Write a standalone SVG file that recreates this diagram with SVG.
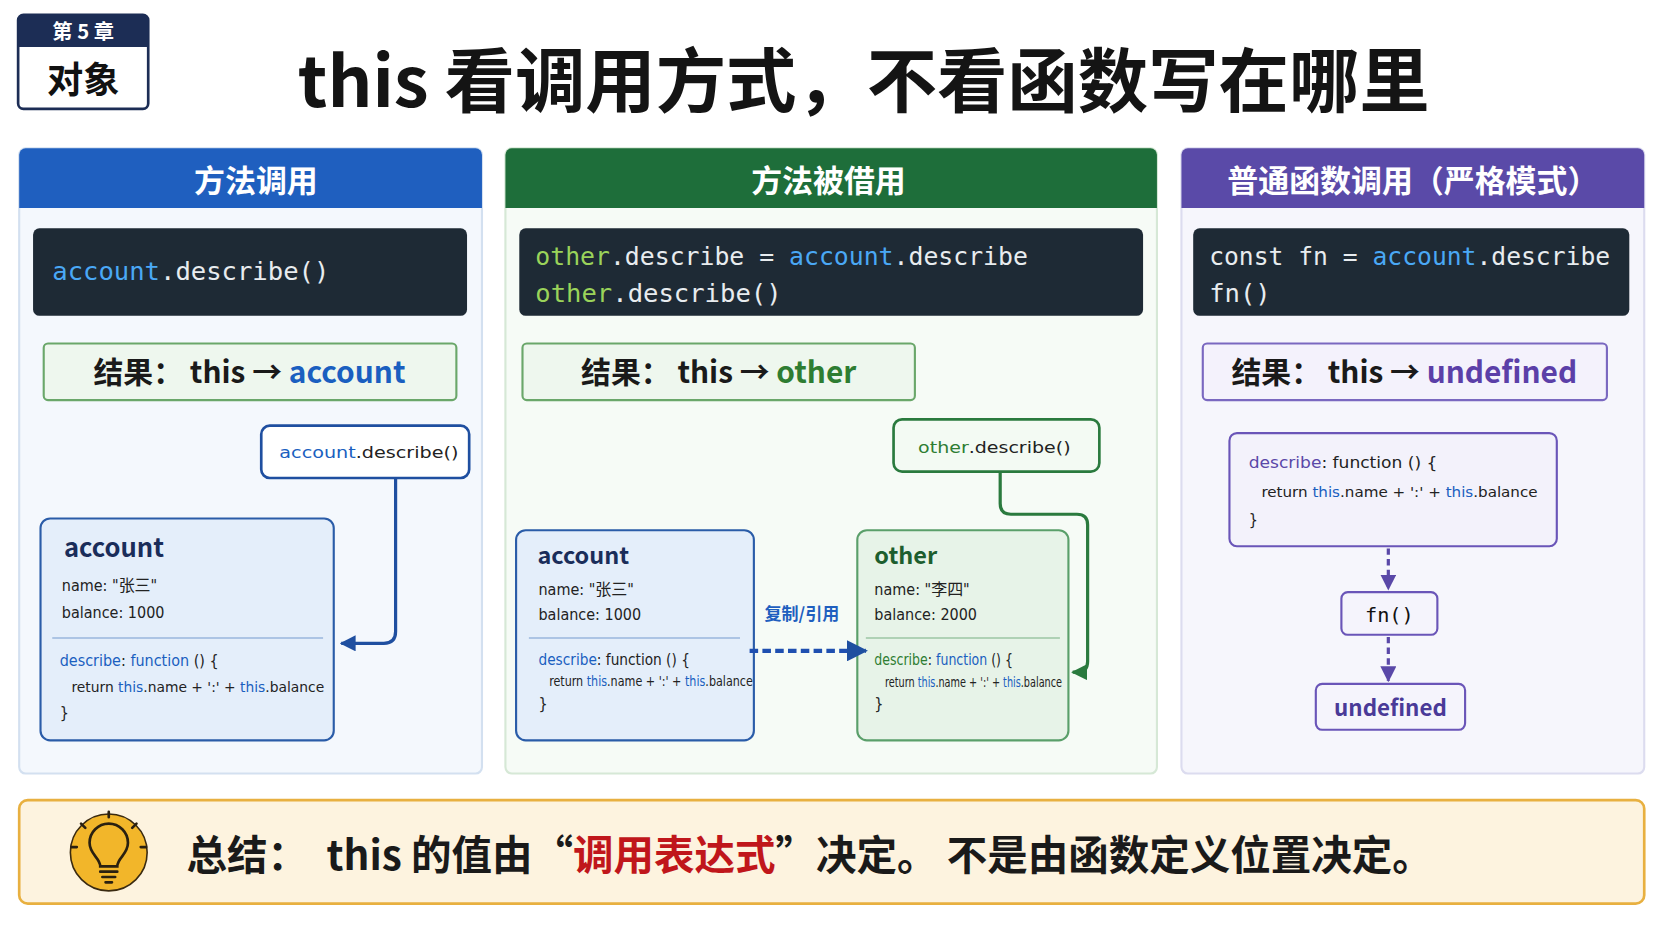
<svg xmlns="http://www.w3.org/2000/svg" width="1672" height="941" viewBox="0 0 1672 941">
<defs>
<style>
.sans{font-family:"Noto Sans CJK SC","Noto Sans",sans-serif}
.b{font-weight:700}
.code{font-family:"DejaVu Sans Mono","Noto Sans CJK SC",monospace;font-size:24px;fill:#e8ecef}
.hdr{font-family:"Noto Sans CJK SC",sans-serif;font-weight:700;font-size:29px;fill:#fff}
.res{font-family:"Noto Sans CJK SC","Noto Sans",sans-serif;font-weight:700;font-size:28px;fill:#1a1a1a}
.sm{font-family:"DejaVu Sans Condensed","Noto Sans CJK SC",sans-serif;font-size:15px;fill:#222}
.xs{font-family:"DejaVu Sans Condensed",sans-serif;font-size:13px;fill:#222}
.blu{fill:#1a5fc0}
</style>
<marker id="ab" viewBox="0 0 10 10" refX="9" refY="5" markerWidth="5" markerHeight="5" orient="auto"><path d="M0,0L10,5L0,10z" fill="#1f4fa0"/></marker>
<marker id="ag" viewBox="0 0 10 10" refX="9" refY="5" markerWidth="5" markerHeight="5" orient="auto"><path d="M0,0L10,5L0,10z" fill="#2a7a3e"/></marker>
<marker id="ap" viewBox="0 0 10 10" refX="9" refY="5" markerWidth="5" markerHeight="5" orient="auto"><path d="M0,0L10,5L0,10z" fill="#5a48a8"/></marker>
</defs>
<rect width="1672" height="941" fill="#fff"/>
<g transform="scale(1.0663,1.0669)">
<g id="badge">
<rect x="17" y="14" width="122" height="88" rx="5" fill="#fff" stroke="#1c2d55" stroke-width="2.5"/>
<path d="M17,19a5,5 0 0 1 5,-5h112a5,5 0 0 1 5,5v25h-122z" fill="#1c2d55"/>
<text x="78" y="37" text-anchor="middle" class="sans b" font-size="19" fill="#fff" xml:space="preserve">第 5 章</text>
<text x="78" y="87" text-anchor="middle" class="sans b" font-size="34" fill="#111">对象</text>
</g>
<text id="title" x="810" y="100" text-anchor="middle" class="sans b" font-size="66" fill="#141414">this 看调用方式，不看函数写在哪里</text>

<g id="panel1">
<rect x="18" y="139" width="434" height="586" rx="6" fill="#f4f8fd" stroke="#d3e0f0" stroke-width="2"/>
<path d="M18,145a6,6 0 0 1 6,-6h422a6,6 0 0 1 6,6v50h-434z" fill="#1f5fbf"/>
<text x="240" y="180" text-anchor="middle" class="hdr">方法调用</text>
<rect x="31" y="214" width="407" height="82" rx="6" fill="#1e2a35"/>
<text x="49" y="262" class="code"><tspan fill="#4aa8f5">account</tspan>.describe()</text>
<rect x="41" y="322" width="387" height="53" rx="4" fill="#eef7ee" stroke="#6aa76a" stroke-width="2"/>
<text x="234" y="359" text-anchor="middle" class="res">结果： this → <tspan fill="#1a5fc0">account</tspan></text>
</g>
<g id="call1">
<rect x="245" y="399" width="195" height="49" rx="8" fill="#fff" stroke="#1f4fa0" stroke-width="2.5"/>
<text x="262" y="429" class="sm" font-size="18" textLength="168" lengthAdjust="spacingAndGlyphs"><tspan class="blu">account</tspan>.describe()</text>
</g>
<g id="account1">
<rect x="38" y="486" width="275" height="208" rx="9" fill="#e4eefa" stroke="#2a5ca8" stroke-width="2"/>
<text x="60" y="522" class="sans b" font-size="24" fill="#1a2d5a">account</text>
<text x="58" y="554" class="sm" font-size="16">name: "张三"</text>
<text x="58" y="579" class="sm" font-size="16">balance: 1000</text>
<line x1="49" y1="598" x2="303" y2="598" stroke="#9ab6dc" stroke-width="1.5"/>
<text x="56" y="624" class="sm" font-size="16"><tspan class="blu">describe</tspan>: <tspan class="blu">function</tspan> () {</text>
<text x="67" y="649" class="xs" font-size="14" textLength="237" lengthAdjust="spacingAndGlyphs">return <tspan class="blu">this</tspan>.name + ':' + <tspan class="blu">this</tspan>.balance</text>
<text x="56" y="673" class="sm" font-size="16">}</text>
</g>

<g id="panel2">
<rect x="474" y="139" width="611" height="586" rx="6" fill="#f6fbf6" stroke="#d6e8d6" stroke-width="2"/>
<path d="M474,145a6,6 0 0 1 6,-6h599a6,6 0 0 1 6,6v50h-611z" fill="#1e6e3a"/>
<text x="777" y="180" text-anchor="middle" class="hdr">方法被借用</text>
<rect x="487" y="214" width="585" height="82" rx="6" fill="#1e2a35"/>
<text x="502" y="248" class="code" textLength="462" lengthAdjust="spacingAndGlyphs"><tspan fill="#9ad35a">other</tspan>.describe = <tspan fill="#4aa8f5">account</tspan>.describe</text>
<text x="502" y="283" class="code"><tspan fill="#9ad35a">other</tspan>.describe()</text>
<rect x="490" y="322" width="368" height="53" rx="4" fill="#eef7ee" stroke="#6aa76a" stroke-width="2"/>
<text x="674" y="359" text-anchor="middle" class="res">结果： this → <tspan fill="#2e7d32">other</tspan></text>
</g>
<g id="call2">
<rect x="838" y="393" width="193" height="49" rx="8" fill="#f3faf3" stroke="#2a7a3e" stroke-width="2.5"/>
<text x="861" y="425" class="sm" font-size="18" textLength="143" lengthAdjust="spacingAndGlyphs"><tspan fill="#2e7d32">other</tspan>.describe()</text>
</g>
<g id="account2">
<rect x="484" y="497" width="223" height="197" rx="9" fill="#e4eefa" stroke="#2a5ca8" stroke-width="2"/>
<text x="504" y="529" class="sans b" font-size="22" fill="#1a2d5a">account</text>
<text x="505" y="558" class="sm" font-size="14">name: "张三"</text>
<text x="505" y="581" class="sm" font-size="14">balance: 1000</text>
<line x1="496" y1="598" x2="694" y2="598" stroke="#9ab6dc" stroke-width="1.5"/>
<text x="505" y="623" class="sm" font-size="14" textLength="142" lengthAdjust="spacingAndGlyphs"><tspan class="blu">describe</tspan>: function () {</text>
<text x="515" y="643" class="xs" font-size="12" textLength="191" lengthAdjust="spacingAndGlyphs">return <tspan class="blu">this</tspan>.name + ':' + <tspan class="blu">this</tspan>.balance</text>
<text x="505" y="665" class="sm" font-size="14">}</text>
</g>
<g id="other">
<rect x="804" y="497" width="198" height="197" rx="9" fill="#e7f3e8" stroke="#5a9f6a" stroke-width="2"/>
<text x="820" y="529" class="sans b" font-size="22" fill="#1d5e2e">other</text>
<text x="820" y="558" class="sm" font-size="14">name: "李四"</text>
<text x="820" y="581" class="sm" font-size="14">balance: 2000</text>
<line x1="812" y1="598" x2="994" y2="598" stroke="#9cc6a4" stroke-width="1.5"/>
<text x="820" y="623" class="sm" font-size="13" textLength="130" lengthAdjust="spacingAndGlyphs"><tspan fill="#2e7d32">describe</tspan>: <tspan class="blu">function</tspan> () {</text>
<text x="830" y="644" class="xs" font-size="11" textLength="166" lengthAdjust="spacingAndGlyphs">return <tspan class="blu">this</tspan>.name + ':' + <tspan class="blu">this</tspan>.balance</text>
<text x="820" y="665" class="sm" font-size="14">}</text>
</g>

<g id="panel3">
<rect x="1108" y="139" width="434" height="586" rx="6" fill="#f6f6fc" stroke="#dcdcef" stroke-width="2"/>
<path d="M1108,145a6,6 0 0 1 6,-6h422a6,6 0 0 1 6,6v50h-434z" fill="#5a4aa8"/>
<text x="1325" y="180" text-anchor="middle" class="hdr">普通函数调用（严格模式）</text>
<rect x="1119" y="214" width="409" height="82" rx="6" fill="#1e2a35"/>
<text x="1134" y="248" class="code" textLength="376" lengthAdjust="spacingAndGlyphs">const fn = <tspan fill="#4aa8f5">account</tspan>.describe</text>
<text x="1134" y="283" class="code">fn()</text>
<rect x="1128" y="322" width="379" height="53" rx="4" fill="#f4f2fc" stroke="#7a68c0" stroke-width="2"/>
<text x="1317" y="359" text-anchor="middle" class="res">结果： this → <tspan fill="#5b3fa8">undefined</tspan></text>
</g>
<g id="describe3">
<rect x="1153" y="406" width="307" height="106" rx="7" fill="#f3f2fb" stroke="#6a55b8" stroke-width="2"/>
<text x="1171" y="439" class="sm" font-size="16" textLength="177" lengthAdjust="spacingAndGlyphs"><tspan fill="#5a48a8">describe</tspan>: function () {</text>
<text x="1183" y="466" class="xs" font-size="15" textLength="259" lengthAdjust="spacingAndGlyphs">return <tspan class="blu">this</tspan>.name + ':' + <tspan class="blu">this</tspan>.balance</text>
<text x="1171" y="492" class="sm" font-size="15">}</text>
</g>
<g id="fn">
<rect x="1258" y="555" width="90" height="40" rx="6" fill="#f5f4fc" stroke="#6a55b8" stroke-width="2"/>
<text x="1303" y="583" text-anchor="middle" class="code" font-size="19" fill="#111" style="fill:#111;font-size:19px">fn()</text>
</g>
<g id="undef">
<rect x="1234" y="641" width="140" height="43" rx="6" fill="#f5f4fc" stroke="#6a55b8" stroke-width="2"/>
<text x="1304" y="671" text-anchor="middle" class="sans b" font-size="21" fill="#4a3a98">undefined</text>
</g>

<g id="connectors" fill="none">
<path d="M371,448V592q0,11 -11,11H320" stroke="#1f4fa0" stroke-width="3" marker-end="url(#ab)"/>
<path d="M938,442V472q0,10 10,10H1010q10,0 10,10V620q0,10 -10,10H1006" stroke="#2a7a3e" stroke-width="3" marker-end="url(#ag)"/>
<path d="M703,610H812" stroke="#1f4fb0" stroke-width="4" stroke-dasharray="8,4" marker-end="url(#ab)"/>
<path d="M1302,514V552" stroke="#5a48a8" stroke-width="3" stroke-dasharray="6,4" marker-end="url(#ap)"/>
<path d="M1302,597V638" stroke="#5a48a8" stroke-width="3" stroke-dasharray="6,4" marker-end="url(#ap)"/>
</g>
<text x="752" y="581" text-anchor="middle" class="sans b" font-size="16" fill="#1f5fbf">复制/引用</text>

<g id="summary">
<rect x="18" y="750" width="1524" height="97" rx="8" fill="#fdf3df" stroke="#e8b040" stroke-width="2.5"/>
<circle cx="102" cy="799" r="36" fill="#f2b62a" stroke="#3a2a10" stroke-width="1.5"/>
<g fill="none" stroke="#2a2010" stroke-width="2.5" stroke-linecap="round">
<path d="M94,812c0-8-10-11-10-22a18,18 0 0 1 36,0c0,11-10,14-10,22z"/>
<path d="M94,817h16M96,822h12M99,827h6"/>
<path d="M102,766v-5M80,776l-4,-4M124,776l4,-4M72,794h-5M132,794h5"/>
</g>
<text x="175" y="815" class="sans b" font-size="38" fill="#1a1a1a" xml:space="preserve">总结：  this 的值由“<tspan fill="#c0161b">调用表达式</tspan>”决定。 不是由函数定义位置决定。</text>
</g>
</g>
</svg>
